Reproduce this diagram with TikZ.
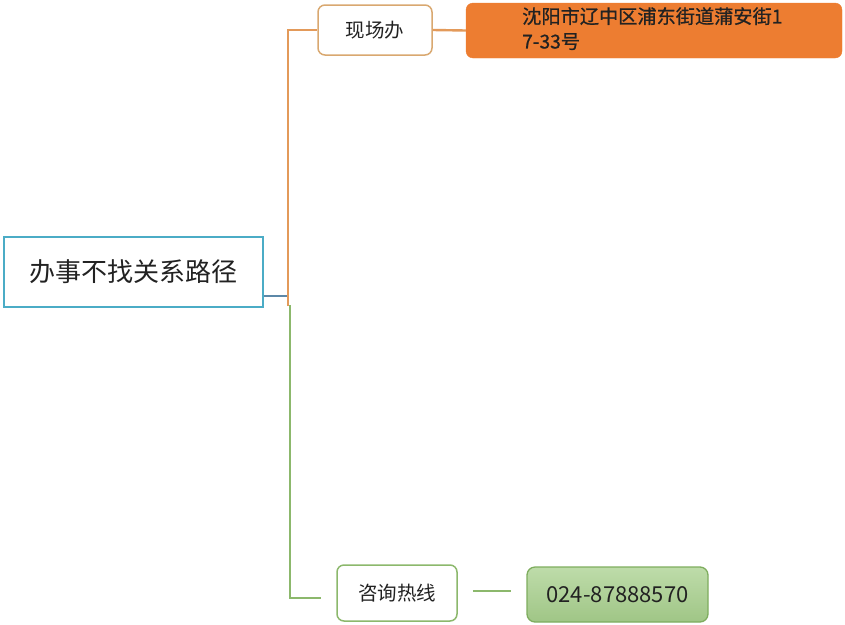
\documentclass[tikz,border=0pt]{standalone}
\usepackage{fontspec}
\setmainfont{Noto Sans CJK SC}[BoldFont=Noto Sans CJK SC, BoldFeatures={FakeBold=0.8}]
\usetikzlibrary{calc}
\definecolor{teal1}{HTML}{4BACC6}
\definecolor{bluel}{HTML}{5C88A8}
\definecolor{orl}{HTML}{E39A5A}
\definecolor{orb}{HTML}{ED7D31}
\definecolor{orbd}{HTML}{D9A870}
\definecolor{grl}{HTML}{8CB86C}
\definecolor{grf}{HTML}{A8D08D}
\definecolor{grd}{HTML}{7EAD5E}
\definecolor{txt}{HTML}{222222}
\tikzset{
  rootbox/.style={draw=teal1, line width=1.8pt, fill=white, minimum width=259pt, minimum height=70pt, inner sep=0pt, text=txt, font=\fontsize{26}{31}\selectfont},
  orlabel/.style={draw=orbd, line width=1.5pt, rounded corners=7pt, fill=white, minimum width=114pt, minimum height=50pt, inner sep=0pt, text=txt, font=\fontsize{19.5}{23}\selectfont},
  grlabel/.style={draw=grl, line width=1.5pt, rounded corners=7pt, fill=white, minimum width=120pt, minimum height=56pt, inner sep=0pt, text=txt, font=\fontsize{19.5}{23}\selectfont},
  orfill/.style={draw=orb, fill=orb, rounded corners=7pt, minimum width=376pt, minimum height=55pt, inner sep=0pt},
  grfill/.style={draw=grd, line width=1.3pt, top color=grf!75!white, bottom color=grf!95!black, rounded corners=8pt, minimum width=181pt, minimum height=55pt, inner sep=0pt, text=txt, font=\fontsize{22}{26}\selectfont},
  orline/.style={draw=orl, line width=2.4pt},
  grline/.style={draw=grl, line width=2.6pt},
  blline/.style={draw=bluel, line width=2.2pt}
}
\begin{document}
\begin{tikzpicture}[x=1pt,y=-1pt]
\useasboundingbox (0,0) rectangle (845,624);
\node[rootbox] (root) at (133.5,272) {办事不找关系路径};
\node[orlabel] (xcb) at (375,30) {现场办};
\node[orfill] (addr) at (654,30.5) {};
\node[anchor=north west, align=left, text=txt, font=\fontsize{19.2}{25}\selectfont\bfseries, inner sep=0pt] (addrt) at (522,7) {沈阳市辽中区浦东街道蒲安街1\\7-33号};
\node[grlabel] (rx) at (397,593) {咨询热线};
\node[grfill] (ph) at (617.5,594.5) {024-87888570};
\coordinate (jo) at (288,296);
\coordinate (jolow) at (288,306);
\coordinate (jg) at (290,305);
\coordinate (gend) at (321,598);
\draw[blline] (jo -| root.east) -- (jo);
\draw[orline] (jolow) |- (xcb.west);
\draw[orline] (xcb.east) -- (addr.west);
\draw[grline] (jg) |- (gend);
\draw[grline] ($(rx.east)+(15,-2)$) coordinate (s1) -- ($(ph.west)+(-15,-3.5)$) coordinate (s2);
\end{tikzpicture}
\end{document}
